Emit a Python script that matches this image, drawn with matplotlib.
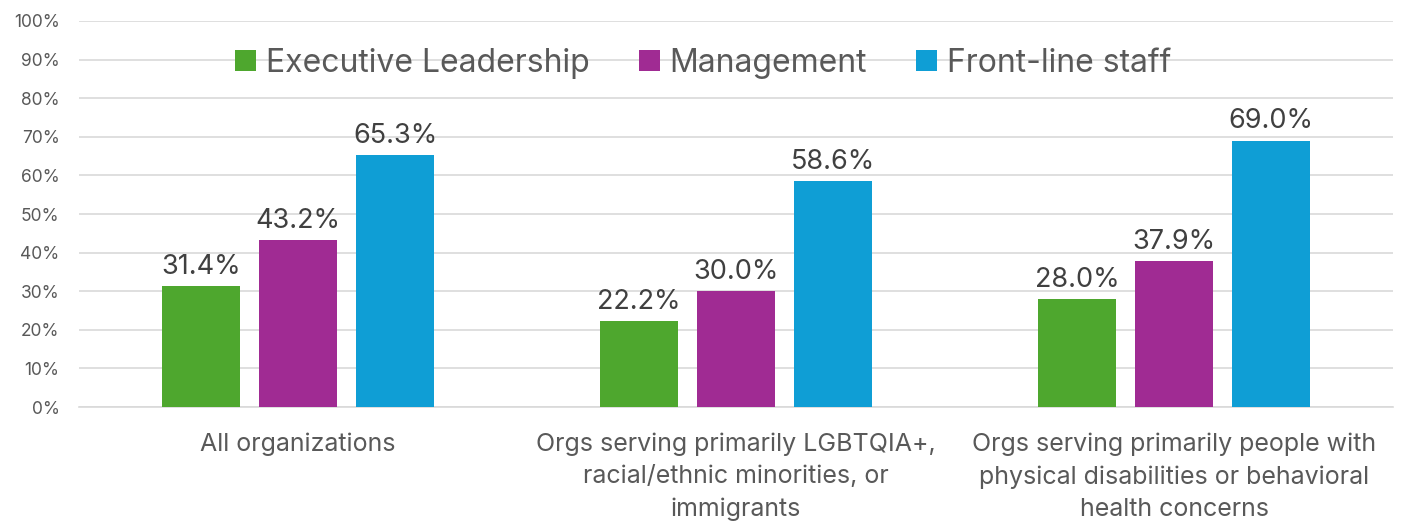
import numpy as np
import matplotlib.pyplot as plt

plt.rcParams['font.family'] = ['Inter', 'DejaVu Sans']

categories = ['All organizations',
              'Orgs serving primarily LGBTQIA+,\nracial/ethnic minorities, or\nimmigrants',
              'Orgs serving primarily people with\nphysical disabilities or behavioral\nhealth concerns']
series_names = ['Executive Leadership', 'Management', 'Front-line staff']
exec_vals = [31.4, 22.2, 28.0]
mgmt_vals = [43.2, 30.0, 37.9]
front_vals = [65.3, 58.6, 69.0]
colors = ['#4EA72E', '#A02B93', '#0F9ED5']

fig = plt.figure(figsize=(14.01, 5.21), dpi=100)
ax = fig.add_axes([0.0564, 0.2188, 0.9379, 0.7409])

x = np.arange(len(categories))
width = 0.176
step = 0.2215
for i, (vals, name) in enumerate(zip([exec_vals, mgmt_vals, front_vals], series_names)):
    pos = x + (i - 1) * step
    bars = ax.bar(pos, vals, width, color=colors[i], label=name, zorder=3)
    for b, v in zip(bars, vals):
        ax.text(b.get_x() + b.get_width() / 2, v + 1.6, f'{v:.1f}%',
                ha='center', va='bottom', fontsize=19.5, color='#404040')

ax.set_xlim(-0.5, 2.5)
ax.set_ylim(0, 100)
ax.set_yticks(np.arange(0, 101, 10))
ax.set_yticklabels([f'{t}%' for t in range(0, 101, 10)], fontsize=12.5, color='#595959')
ax.set_xticks(x)
ax.set_xticklabels(categories, fontsize=18, color='#595959', linespacing=1.52, va='top')
ax.tick_params(axis='both', length=0)
ax.tick_params(axis='x', pad=18)
ax.tick_params(axis='y', pad=14)
ax.grid(axis='y', color='#D9D9D9', linewidth=1.2, zorder=0)
for s in ['top', 'right', 'left']:
    ax.spines[s].set_visible(False)
ax.spines['bottom'].set_color('#D9D9D9')
ax.spines['bottom'].set_linewidth(1.2)

leg = ax.legend(loc='center', bbox_to_anchor=(0.475, 0.89), ncol=3, frameon=False,
                fontsize=23, handlelength=0.65, handleheight=0.65, handletextpad=0.3,
                columnspacing=1.55, labelcolor='#595959')

fig.savefig('out.png', dpi=100)
